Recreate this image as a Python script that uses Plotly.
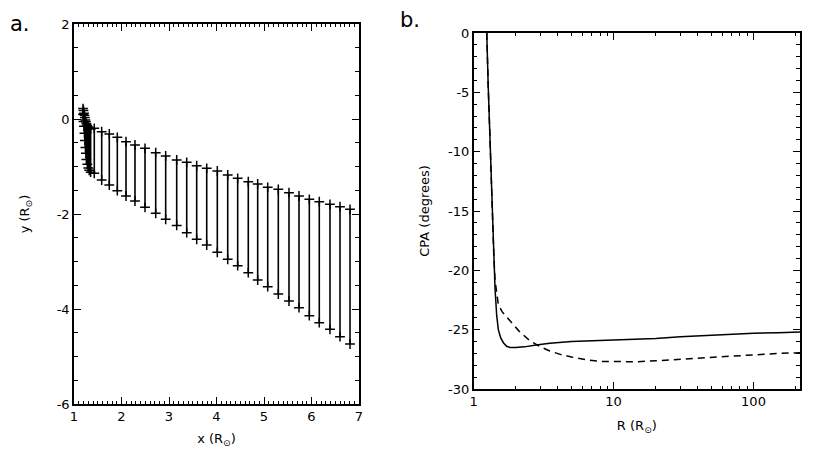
import plotly.graph_objects as go

# panel a: leading / trailing positions of the front (R_sun)
bar_x = [1.19, 1.20, 1.21, 1.22, 1.23, 1.24, 1.25, 1.26, 1.28, 1.30, 1.32, 1.35,
         1.427, 1.583, 1.743, 1.912, 2.095, 2.284, 2.495, 2.72, 2.93, 3.162,
         3.373, 3.583, 3.794, 4.017, 4.236, 4.446, 4.669, 4.867, 5.078, 5.301,
         5.526, 5.737, 5.954, 6.164, 6.389, 6.6, 6.811]
bar_top = [0.22, 0.18, 0.12, 0.08, 0.03, -0.02, -0.06, -0.10, -0.14, -0.17, -0.19, -0.21,
           -0.196, -0.267, -0.316, -0.385, -0.478, -0.547, -0.617, -0.709, -0.779, -0.863,
           -0.912, -0.983, -1.038, -1.095, -1.179, -1.248, -1.32, -1.368, -1.438, -1.48,
           -1.552, -1.621, -1.691, -1.741, -1.796, -1.846, -1.901]
bar_bot = [0.10, -0.05, -0.15, -0.30, -0.45, -0.60, -0.72, -0.85, -0.95, -1.03, -1.08, -1.12,
           -1.143, -1.284, -1.389, -1.509, -1.621, -1.726, -1.859, -1.985, -2.112, -2.24,
           -2.394, -2.533, -2.653, -2.806, -2.954, -3.088, -3.236, -3.389, -3.531, -3.684,
           -3.832, -3.973, -4.141, -4.288, -4.427, -4.583, -4.737]

# panel b: CPA vs distance
r_solid = [1.24, 1.25, 1.27, 1.30, 1.33, 1.36, 1.39, 1.42, 1.46, 1.50, 1.56, 1.63, 1.72,
           1.82, 2.0, 2.3, 2.8, 3.5, 5, 7, 10, 15, 20, 30, 50, 70, 100, 150, 215]
cpa_solid = [0, -2, -4.5, -8, -12, -15.5, -18.5, -21.5, -23.8, -25.0, -25.7, -26.1, -26.4,
             -26.5, -26.5, -26.45, -26.3, -26.15, -26.0, -25.95, -25.9, -25.85, -25.75,
             -25.6, -25.45, -25.37, -25.3, -25.25, -25.2]
r_dash = [1.24, 1.25, 1.27, 1.30, 1.33, 1.36, 1.39, 1.42, 1.46, 1.5, 1.6, 1.82, 2.1, 2.5,
          3.0, 3.5, 4.2, 5, 6.5, 8, 11, 15, 20, 30, 50, 70, 100, 150, 215]
cpa_dash = [0, -2, -4.5, -8, -12, -15.5, -18.5, -20.8, -22.0, -22.9, -23.5, -24.3, -25.1,
            -25.9, -26.45, -26.8, -27.1, -27.3, -27.55, -27.68, -27.72, -27.7, -27.62,
            -27.5, -27.3, -27.2, -27.1, -27.0, -26.95]

FONT = "DejaVu Sans"
W, H = 830, 457
OFF = 8  # page body margin


def px_x(p):
    return (p - OFF) / W


def px_y(p):
    return 1 - (p - OFF) / H


fig = go.Figure()

# vertical segments joining top and bottom points
seg_x, seg_y = [], []
for x, t, b in zip(bar_x, bar_top, bar_bot):
    seg_x += [x, x, None]
    seg_y += [t, b, None]
fig.add_trace(go.Scatter(x=seg_x, y=seg_y, mode="lines",
                         line=dict(color="black", width=1.6),
                         xaxis="x", yaxis="y", showlegend=False, hoverinfo="skip"))
fig.add_trace(go.Scatter(x=bar_x + bar_x, y=bar_top + bar_bot, mode="markers",
                         marker=dict(symbol="cross-thin", size=7, color="black",
                                     line=dict(color="black", width=1.5)),
                         xaxis="x", yaxis="y", showlegend=False))

fig.add_trace(go.Scatter(x=r_solid, y=cpa_solid, mode="lines",
                         line=dict(color="black", width=1.5),
                         xaxis="x2", yaxis="y2", showlegend=False))
fig.add_trace(go.Scatter(x=r_dash, y=cpa_dash, mode="lines",
                         line=dict(color="black", width=1.5, dash="7px,5px"),
                         xaxis="x2", yaxis="y2", showlegend=False))

axis_common = dict(showgrid=False, zeroline=False, showline=True, linecolor="black",
                   linewidth=1.5, mirror="allticks", ticks="inside", tickcolor="black",
                   tickwidth=1, automargin=False,
                   tickfont=dict(family=FONT, size=13, color="black"))

fig.update_layout(
    width=W, height=H,
    margin=dict(l=0, r=0, t=0, b=0),
    paper_bgcolor="white", plot_bgcolor="white",
    font=dict(family=FONT, size=13, color="black"),
    xaxis=dict(axis_common, domain=[px_x(74), px_x(359)], range=[1, 7],
               tickvals=[1, 2, 3, 4, 5, 6, 7], ticklen=7,
               minor=dict(dtick=0.1, ticklen=3, ticks="inside", tickcolor="black"),
               title=dict(text="x (R<sub>⊙</sub>)", standoff=11,
                          font=dict(family=FONT, size=13)),
               anchor="y"),
    yaxis=dict(axis_common, domain=[px_y(404), px_y(24)], range=[-6, 2],
               tickvals=[-6, -4, -2, 0, 2], ticktext=["-6", "-4", "-2", "0", "2"],
               ticklen=7,
               minor=dict(dtick=0.5, ticklen=4, ticks="inside", tickcolor="black"),
               title=dict(text="y (R<sub>⊙</sub>)", standoff=24,
                          font=dict(family=FONT, size=13)),
               anchor="x"),
    xaxis2=dict(axis_common, domain=[px_x(473.7), px_x(800)], type="log",
                range=[0, 2.3324], tickvals=[1, 10, 100], ticktext=["1", "10", "100"],
                ticklen=7,
                minor=dict(tickvals=[2, 3, 4, 5, 6, 7, 8, 9, 20, 30, 40, 50, 60, 70, 80,
                                     90, 200], ticklen=3, ticks="inside",
                           tickcolor="black"),
                title=dict(text="R (R<sub>⊙</sub>)", standoff=13,
                           font=dict(family=FONT, size=13)),
                anchor="y2"),
    yaxis2=dict(axis_common, domain=[px_y(389), px_y(33)], range=[-30, 0],
                tickvals=[-30, -25, -20, -15, -10, -5, 0],
                ticktext=["-30", "-25", "-20", "-15", "-10", "-5", "0"], ticklen=7,
                minor=dict(dtick=1, ticklen=4, ticks="inside", tickcolor="black"),
                title=dict(text="CPA (degrees)", standoff=16,
                           font=dict(family=FONT, size=13)),
                anchor="x2"),
    annotations=[
        dict(text="a.", x=px_x(8), y=px_y(24), xref="paper", yref="paper",
             xanchor="left", yanchor="middle", showarrow=False,
             font=dict(family=FONT, size=21, color="black")),
        dict(text="b.", x=px_x(398), y=px_y(20), xref="paper", yref="paper",
             xanchor="left", yanchor="middle", showarrow=False,
             font=dict(family=FONT, size=21, color="black")),
    ],
)

fig.write_html("out.html")
